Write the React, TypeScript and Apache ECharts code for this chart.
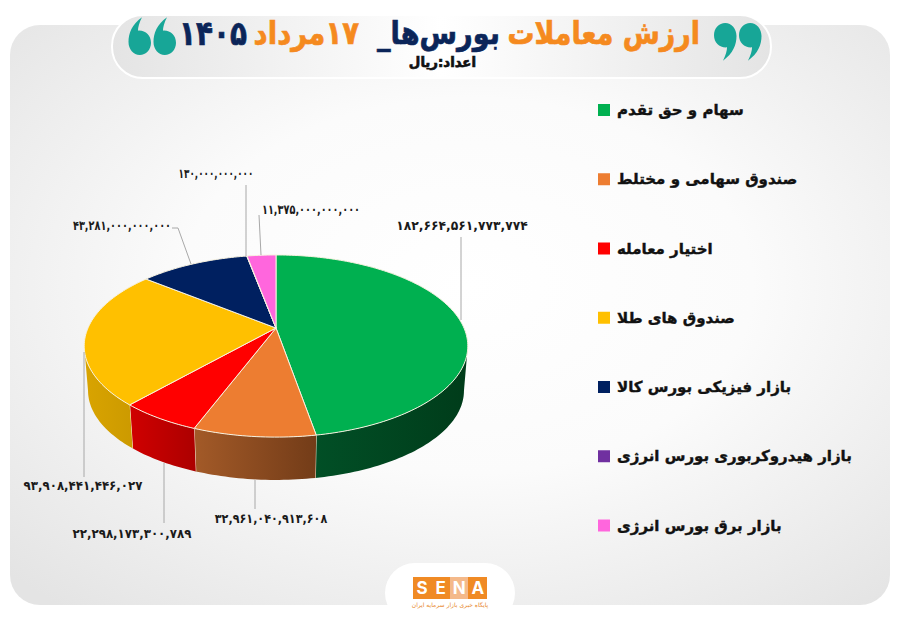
import { useEffect, useRef } from "react";
import * as echarts from "echarts";

const CATEGORIES = [
  "سهام و حق تقدم",
  "صندوق سهامی و مختلط",
  "اختیار معامله",
  "صندوق های طلا",
  "بازار فیزیکی بورس کالا",
  "بازار هیدروکربوری بورس انرژی",
  "بازار برق بورس انرژی",
];
const VALUES = [
  182664561773774, 32961040913608, 22298173300789, 93908441446027, 43281000000000, 130000000000,
  11375000000000,
];
const VALUE_LABELS = [
  "۱۸۲,۶۶۴,۵۶۱,۷۷۳,۷۷۴",
  "۳۲,۹۶۱,۰۴۰,۹۱۳,۶۰۸",
  "۲۲,۲۹۸,۱۷۳,۳۰۰,۷۸۹",
  "۹۳,۹۰۸,۴۴۱,۴۴۶,۰۲۷",
  "۴۳,۲۸۱,۰۰۰,۰۰۰,۰۰۰",
  "۱۳۰,۰۰۰,۰۰۰,۰۰۰",
  "۱۱,۳۷۵,۰۰۰,۰۰۰,۰۰۰",
];

const TOP_COLORS = ["#00b050", "#ed7d31", "#ff0000", "#ffc000", "#002060", "#7030a0", "#ff66dd"];
const WALL_COLORS = [
  ["#014f26", "#003c1a"],
  ["#a35a28", "#733c18"],
  ["#d00000", "#ac0000"],
  ["#d9a400", "#cc9a00"],
  ["#001540", "#001540"],
  ["#4a2070", "#4a2070"],
  ["#b0459a", "#b0459a"],
];

// where each value label sits, how wide it is drawn and how its leader line runs
const LABEL_LAYOUT = [
  { x: 462, y: 225, fit: 0.95, line: [[461, 237], [461, 320]] },
  { x: 271, y: 519, fit: 0.86, line: [[255, 480], [255, 509]] },
  { x: 132, y: 533, fit: 0.91, line: [[164, 463], [164, 523]] },
  { x: 83, y: 485, fit: 0.91, line: [[84, 352], [84, 477]] },
  { x: 122, y: 225, fit: 0.75, line: [[172, 228], [178, 228], [191, 264]] },
  { x: 216, y: 174, fit: 0.68, line: [[246, 185], [246, 256]] },
  { x: 311, y: 209, fit: 0.75, line: [[259, 215], [261, 255]] },
];

const FONT = "'DejaVu Sans', sans-serif";
const PIE = { cx: 276, cy: 328, rx: 188, ry: 87.5, k: 0.198, depth: 45, shrink: 0.98 };
const TOTAL = VALUES.reduce((a, b) => a + b, 0);
// the widest points of the projected rim, where the side wall starts and ends
const WALL_START = Math.PI - Math.acos(PIE.k);
const WALL_END = Math.PI + Math.acos(PIE.k);

echarts.graphic.registerShape(
  "quoteMark",
  echarts.graphic.extendPath(
    "M50 0C78 0 100 20 100 45C100 75 85 105 40 130C52 112 58 95 58 84C25 86 0 68 0 42C0 18 22 0 50 0Z",
    {},
  ),
);

// perspective projection of a point on the pie's rim
function rim(theta: number, bottom: boolean) {
  const u = Math.sin(theta);
  const v = -Math.cos(theta);
  const d = 1 - PIE.k * v;
  const s = bottom ? PIE.shrink : 1;
  return [
    PIE.cx + (s * PIE.rx * u) / d,
    PIE.cy + (bottom ? PIE.depth : 0) + (s * PIE.ry * v) / d,
  ];
}

function arcPoints(a0: number, a1: number, bottom: boolean) {
  const steps = Math.max(2, Math.ceil(Math.abs(a1 - a0) / 0.02));
  const pts: number[][] = [];
  for (let i = 0; i <= steps; i++) pts.push(rim(a0 + ((a1 - a0) * i) / steps, bottom));
  return pts;
}

function sliceRenderer(index: number) {
  return (_params: any, api: any) => {
    const before = VALUES.slice(0, index).reduce((a, b) => a + b, 0);
    const a0 = (before / TOTAL) * Math.PI * 2;
    const a1 = a0 + (api.value(0) / TOTAL) * Math.PI * 2;
    const children: any[] = [];

    // side wall only on the part facing the viewer
    const w0 = Math.max(a0, WALL_START);
    const w1 = Math.min(a1, WALL_END);
    if (w1 > w0) {
      const top = arcPoints(w0, w1, false);
      const bot = arcPoints(w1, w0, true);
      children.push({
        type: "polygon",
        shape: { points: top.concat(bot) },
        style: {
          fill: new echarts.graphic.LinearGradient(0, 0, 1, 0, [
            { offset: 0, color: WALL_COLORS[index][0] },
            { offset: 1, color: WALL_COLORS[index][1] },
          ]),
        },
      });
      if (a1 < WALL_END) {
        children.push({
          type: "polyline",
          shape: { points: [rim(w1, false), rim(w1, true)] },
          style: { stroke: "#f7ecd6", lineWidth: 1, fill: "none" },
        });
      }
    }

    children.push({
      type: "polygon",
      shape: { points: [[PIE.cx, PIE.cy], ...arcPoints(a0, a1, false)] },
      style: { fill: TOP_COLORS[index], stroke: "#f7f2e0", lineWidth: 1 },
    });

    const lay = LABEL_LAYOUT[index];
    children.push({
      type: "polyline",
      shape: { points: lay.line },
      style: { stroke: "#a8a8a8", lineWidth: 1, fill: "none" },
    });
    children.push({
      type: "text",
      x: lay.x,
      y: lay.y,
      scaleX: lay.fit,
      style: {
        text: VALUE_LABELS[index],
        fill: "#1a1a1a",
        font: `bold 13px ${FONT}`,
        textAlign: "center",
        textVerticalAlign: "middle",
      },
    });
    return { type: "group", children };
  };
}

function titleText(text: string, right: number, y: number, size: number, fit: number, color: string) {
  return {
    type: "text",
    x: right,
    y,
    z: 3,
    scaleX: fit,
    style: {
      // embedding keeps the digits and the dash on the right-to-left side
      text: `\u202B${text}\u202C`,
      fill: color,
      stroke: color,
      lineWidth: 0.7,
      font: `bold ${size}px ${FONT}`,
      textAlign: "right",
      textVerticalAlign: "middle",
    },
  };
}

function quotes(x: number, y: number, flip: boolean) {
  const sx = flip ? -0.225 : 0.225;
  const sy = flip ? -0.29 : 0.29;
  return [0, 1].map((n) => ({
    type: "quoteMark",
    x: x + n * 25,
    y,
    scaleX: sx,
    scaleY: sy,
    z: 3,
    style: { fill: "#17a697" },
  }));
}

const LOGO_LETTERS = ["S", "E", "N", "A"];

export default function App() {
  const containerRef = useRef<HTMLDivElement>(null);

  useEffect(() => {
    if (!containerRef.current) return;
    const chart = echarts.init(containerRef.current, undefined, { renderer: "svg" });

    chart.setOption({
      animation: false,
      backgroundColor: "#ffffff",
      legend: {
        orient: "vertical",
        left: 598,
        top: 98,
        padding: 0,
        itemWidth: 12,
        itemHeight: 12,
        itemGap: 45.25,
        icon: "rect",
        selectedMode: false,
        textStyle: {
          color: "#111111",
          fontFamily: FONT,
          fontWeight: "bold",
          fontSize: 15,
          lineHeight: 24,
          padding: [0, 0, 0, 2],
          textBorderColor: "#111111",
          textBorderWidth: 0.4,
        },
        data: CATEGORIES,
      },
      graphic: {
        elements: [
          {
            type: "rect",
            z: 0,
            shape: { x: 10, y: 25, width: 880, height: 580, r: 30 },
            style: {
              fill: new echarts.graphic.RadialGradient(0.52, 0.45, 0.72, [
                { offset: 0, color: "#ffffff" },
                { offset: 0.45, color: "#fbfbfb" },
                { offset: 1, color: "#e4e4e4" },
              ]),
            },
          },
          {
            type: "rect",
            z: 1,
            shape: { x: 112, y: 15, width: 659, height: 63, r: 31 },
            style: {
              fill: new echarts.graphic.LinearGradient(0, 0, 1, 0, [
                { offset: 0, color: "#e4e4e4" },
                { offset: 0.5, color: "#ffffff" },
                { offset: 1, color: "#e4e4e4" },
              ]),
              stroke: "#ffffff",
              lineWidth: 2,
            },
          },
          titleText("ارزش معاملات", 700, 33, 32, 0.84, "#f58a1f"),
          titleText("بورس‌ها_", 500, 33, 32, 0.85, "#0b2559"),
          titleText("۱۷مرداد", 359, 33, 32, 0.86, "#f58a1f"),
          titleText("۱۴۰۵", 247, 33, 34, 0.82, "#0b2559"),
          titleText("اعداد:ریال", 476, 62, 14, 0.95, "#111111"),
          ...quotes(714, 23, false),
          ...quotes(151, 55, true),
          {
            type: "rect",
            z: 1,
            shape: { x: 385, y: 563, width: 130, height: 60, r: 30 },
            style: { fill: "#ffffff" },
          },
          {
            type: "rect",
            z: 2,
            shape: { x: 413, y: 577, width: 74, height: 22 },
            style: { fill: "#f08a24" },
          },
          {
            type: "rect",
            z: 2,
            shape: { x: 450, y: 577, width: 18, height: 22 },
            style: { fill: "#f4b98a" },
          },
          ...LOGO_LETTERS.map((letter, i) => ({
            type: "text",
            x: 422 + i * 18.6,
            y: 588,
            z: 3,
            style: {
              text: letter,
              fill: "#ffffff",
              font: "bold 17px Inter, sans-serif",
              textAlign: "center",
              textVerticalAlign: "middle",
            },
          })),
          {
            type: "text",
            x: 450,
            y: 604,
            z: 3,
            style: {
              text: "پایگاه خبری بازار سرمایه ایران",
              fill: "#e8872c",
              font: `6px ${FONT}`,
              textAlign: "center",
              textVerticalAlign: "middle",
            },
          },
        ],
      },
      series: CATEGORIES.map((name, i) => ({
        type: "custom",
        name,
        coordinateSystem: "none",
        z: 5,
        itemStyle: { color: TOP_COLORS[i] },
        renderItem: sliceRenderer(i),
        data: [VALUES[i]],
      })),
    });

    return () => chart.dispose();
  }, []);

  return (
    <div
      ref={containerRef}
      style={{ position: "fixed", left: 0, top: 0, width: 900, height: 623 }}
    />
  );
}
